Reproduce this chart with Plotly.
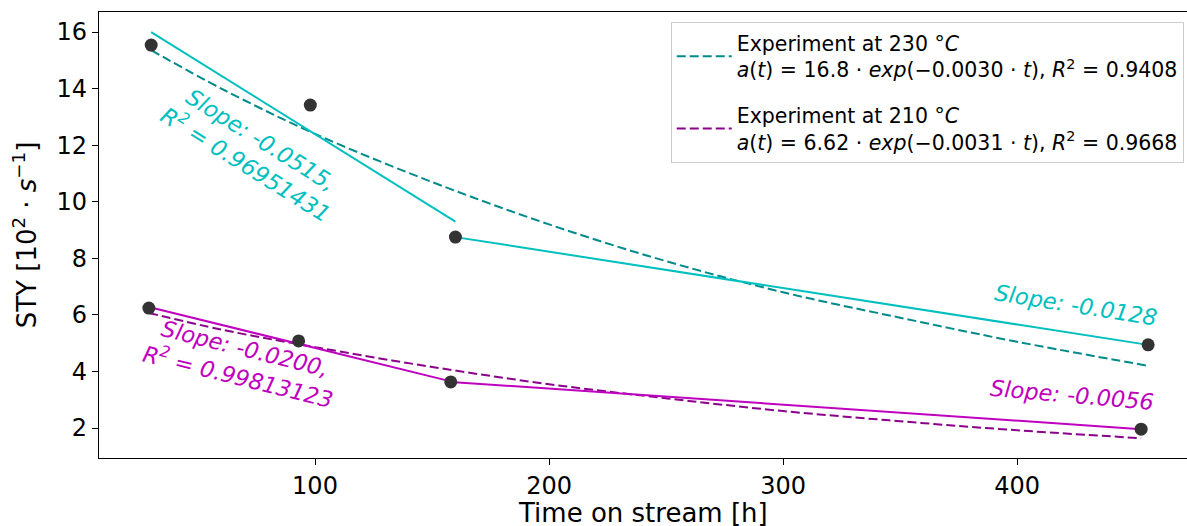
import plotly.graph_objects as go

# Measured data (time on stream [h], STY)
x230 = [30, 98, 160, 456]
y230 = [15.54, 13.42, 8.75, 4.94]
x210 = [29, 93, 158, 453]
y210 = [6.24, 5.08, 3.63, 1.96]

# Exponential fit curves
fitx230 = [30, 60, 100, 150, 200, 250, 300, 350, 400, 456]
fity230 = [15.36, 14.0, 12.4, 10.7, 9.2, 7.9, 6.8, 5.9, 5.05, 4.2]
fitx210 = [29, 60, 100, 150, 200, 250, 300, 350, 400, 453]
fity210 = [6.07, 5.48, 4.86, 4.16, 3.55, 3.05, 2.6, 2.24, 1.92, 1.64]

# Linear segment fits
seg230a_x = [30, 160]
seg230a_y = [16.0, 9.30]
seg230b_x = [160, 456]
seg230b_y = [8.75, 4.94]
seg210a_x = [29, 158]
seg210a_y = [6.28, 3.65]
seg210b_x = [158, 453]
seg210b_y = [3.63, 1.96]

legend230 = ("Experiment at 230 °<i>C</i><br>"
             "<i>a</i>(<i>t</i>) = 16.8 · <i>exp</i>(−0.0030 · <i>t</i>), <i>R</i><sup>2</sup> = 0.9408")
legend210 = ("Experiment at 210 °<i>C</i><br>"
             "<i>a</i>(<i>t</i>) = 6.62 · <i>exp</i>(−0.0031 · <i>t</i>), <i>R</i><sup>2</sup> = 0.9668")

CYAN = "#00BFBF"
DCYAN = "#008B8B"
MAG = "#BF00BF"
DMAG = "#8B008B"
FONT = "DejaVu Sans"

fig = go.Figure()
fig.add_trace(go.Scatter(x=fitx230, y=fity230, mode="lines", name=legend230,
                         legendgroup="a", line_shape="spline",
                         line=dict(color=DCYAN, width=2, dash="9px,4px")))
fig.add_trace(go.Scatter(x=fitx210, y=fity210, mode="lines", name=legend210,
                         legendgroup="b", line_shape="spline",
                         line=dict(color=DMAG, width=2, dash="9px,4px")))
for sx, sy, c in [(seg230a_x, seg230a_y, CYAN), (seg230b_x, seg230b_y, CYAN),
                  (seg210a_x, seg210a_y, MAG), (seg210b_x, seg210b_y, MAG)]:
    fig.add_trace(go.Scatter(x=sx, y=sy, mode="lines", showlegend=False,
                             line=dict(color=c, width=2)))
fig.add_trace(go.Scatter(x=x230, y=y230, mode="markers", showlegend=False,
                         marker=dict(color="#333333", size=13)))
fig.add_trace(go.Scatter(x=x210, y=y210, mode="markers", showlegend=False,
                         marker=dict(color="#333333", size=13)))

annots = [
    (73.9, 11.75, "<i>Slope: -0.0515,<br>R<sup>2</sup> = 0.96951431</i>", 32, CYAN),
    (68.4, 4.30, "<i>Slope: -0.0200,<br>R<sup>2</sup> = 0.99813123</i>", 14, MAG),
    (425.2, 6.35, "<i>Slope: -0.0128</i>", 9, CYAN),
    (423.5, 3.17, "<i>Slope: -0.0056</i>", 5, MAG),
]
for ax, ay, txt, ang, c in annots:
    fig.add_annotation(x=ax, y=ay, xref="x", yref="y", text=txt, showarrow=False,
                       textangle=ang, font=dict(family=FONT, size=22.5, color=c),
                       align="center", xanchor="center", yanchor="middle")

# x-axis title placed as a paper annotation below the tick labels
fig.add_annotation(x=0.5, y=0, xref="paper", yref="paper", text="Time on stream [h]",
                   showarrow=False, xanchor="center", yanchor="top", yshift=-38,
                   font=dict(family=FONT, size=26, color="black"))

fig.update_layout(
    width=1187, height=526,
    margin=dict(l=99, r=0, t=12, b=68),
    paper_bgcolor="white", plot_bgcolor="white",
    font=dict(family=FONT, color="black"),
    legend=dict(x=0.997, y=0.9776, xanchor="right", yanchor="top",
                bgcolor="white", bordercolor="#cccccc", borderwidth=1,
                tracegroupgap=16, itemwidth=55,
                font=dict(family=FONT, size=20.5, color="black")),
)
fig.update_xaxes(range=[7.7, 472.6], showgrid=False, zeroline=False,
                 showline=True, linecolor="black", linewidth=1.2, mirror=True,
                 ticks="outside", ticklen=6, tickcolor="black",
                 tickvals=[100, 200, 300, 400], automargin=False,
                 tickfont=dict(family=FONT, size=24, color="black"))
fig.update_yaxes(range=[0.94, 16.71], showgrid=False, zeroline=False,
                 showline=True, linecolor="black", linewidth=1.2, mirror=False,
                 ticks="outside", ticklen=6, tickcolor="black",
                 tickvals=[2, 4, 6, 8, 10, 12, 14, 16],
                 tickfont=dict(family=FONT, size=24, color="black"),
                 title=dict(text="STY [10<sup>2</sup> · <i>s</i><sup>−1</sup>]",
                            font=dict(family=FONT, size=26, color="black"),
                            standoff=12))

fig.write_html("out.html")
